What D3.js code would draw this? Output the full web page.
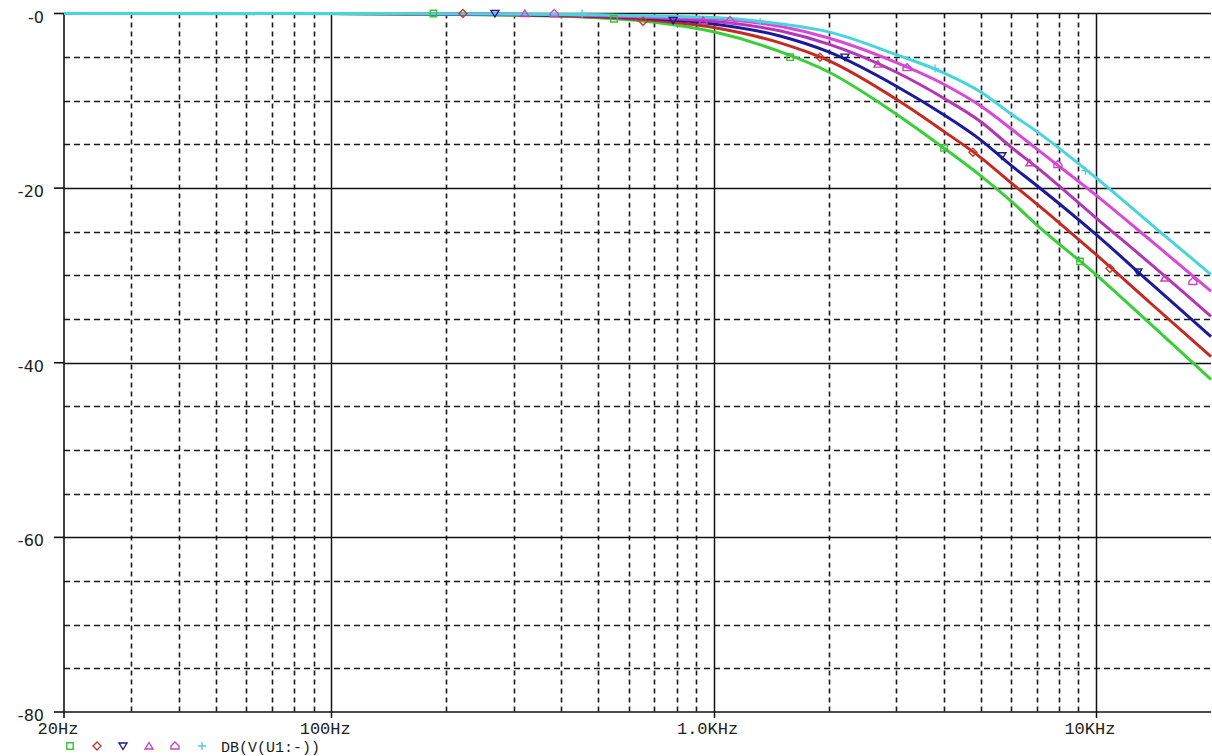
<!DOCTYPE html>
<html>
<head>
<meta charset="utf-8">
<script src="https://cdn.jsdelivr.net/npm/d3@7"></script>
<style>
  html, body { margin: 0; padding: 0; background: #fff; overflow: hidden; }
  svg { display: block; }
</style>
</head>
<body>
<svg id="chart" width="1212" height="756"></svg>
<script>
// ---------- data ----------
const freqs = [20, 100, 200, 300, 500, 700, 1000, 1500, 2000, 3000, 4000, 5000, 6000, 7000, 10000, 14000, 20000];

const greenDb = [0, -0.02, -0.1, -0.2, -0.5, -1.0, -2.1, -4.4, -6.7, -11.5, -15.4, -18.6, -21.5, -24.2, -29.9, -35.7, -41.9];
const redDb   = [0, -0.01, -0.07, -0.15, -0.4, -0.8, -1.6, -3.4, -5.4, -9.8, -13.5, -16.5, -19.4, -21.8, -27.6, -33.3, -39.3];
const blueDb  = [0, -0.01, -0.05, -0.12, -0.3, -0.6, -1.2, -2.6, -4.4, -8.3, -11.6, -14.5, -17.4, -19.7, -25.3, -31.0, -37.0];
const mag1Db  = [0, 0, -0.04, -0.1, -0.25, -0.5, -0.9, -2.0, -3.5, -6.7, -9.7, -12.4, -15.3, -17.6, -23.4, -28.8, -34.7];
const mag2Db  = [0, 0, -0.03, -0.07, -0.2, -0.4, -0.6, -1.5, -2.8, -5.6, -8.1, -10.6, -13.2, -15.5, -20.8, -26.1, -31.8];
const cyanDb  = [0, 0, -0.02, -0.05, -0.15, -0.3, -0.45, -1.2, -2.1, -4.7, -6.8, -9.0, -11.5, -13.5, -18.8, -24.2, -29.9];

// marker positions along each trace (frequency, dB)
const greenMarkF = [185, 549, 1585, 4007, 9087];
const greenMarkDb = [0, -0.6, -5.0, -15.4, -28.4];
const redMarkF = [221, 654, 1898, 4768, 10881];
const redMarkDb = [0, -0.9, -5.0, -15.9, -29.2];
const blueMarkF = [268, 784, 2206, 5677, 12882];
const blueMarkDb = [0, -0.8, -5.0, -16.3, -29.6];
const mag1MarkF = [321, 939, 2692, 6717, 15146];
const mag1MarkDb = [0, -0.8, -5.8, -17.1, -30.3];
const mag2MarkF = [383, 1104, 3206, 7957, 17934];
const mag2MarkDb = [0, -0.8, -6.2, -17.3, -30.7];
const cyanMarkF = [453, 1324, 3795, 9390];
const cyanMarkDb = [0, -1.0, -6.3, -18.0];

const yTickValues = [0, -20, -40, -60, -80];
const yTickLabels = ["-0", "-20", "-40", "-60", "-80"];
const xTickValues = [20, 100, 1000, 10000];
const xTickLabels = ["20Hz", "100Hz", "1.0KHz", "10KHz"];
const yMinorValues = [-5, -10, -15, -25, -30, -35, -45, -50, -55, -65, -70, -75];
const yMajorGrid = [-20, -40, -60];
const xMinorValues = [30, 40, 50, 60, 70, 80, 90, 200, 300, 400, 500, 600, 700, 800, 900,
                      2000, 3000, 4000, 5000, 6000, 7000, 8000, 9000];
const xMajorGrid = [100, 1000, 10000];
const legendLabel = "DB(V(U1:-))";

// ---------- layout ----------
const svg = d3.select("#chart");
const pLeft = 64, pRight = 1211, pTop = 13.5, pBottom = 712;

const x = d3.scaleLog().domain([20, 20000]).range([pLeft, pRight]);
const y = d3.scaleLinear().domain([0, -80]).range([pTop, pBottom]);

const series = [
  { name: "green", vals: greenDb, mf: greenMarkF, md: greenMarkDb, color: "#38cf38", mcolor: "#3cbf3c", sym: "square" },
  { name: "red", vals: redDb, mf: redMarkF, md: redMarkDb, color: "#c42a20", mcolor: "#c43a30", sym: "diamond" },
  { name: "blue", vals: blueDb, mf: blueMarkF, md: blueMarkDb, color: "#1a1a9a", mcolor: "#1a1a8a", sym: "tridown" },
  { name: "mag1", vals: mag1Db, mf: mag1MarkF, md: mag1MarkDb, color: "#b535b5", mcolor: "#c840b8", sym: "triup" },
  { name: "mag2", vals: mag2Db, mf: mag2MarkF, md: mag2MarkDb, color: "#d948d9", mcolor: "#c845c8", sym: "penta" },
  { name: "cyan", vals: cyanDb, mf: cyanMarkF, md: cyanMarkDb, color: "#45d6dc", mcolor: "#55cce0", sym: "plus" }
];

const symPath = {
  square: "M-3.2,-3.2H3.2V3.2H-3.2Z",
  diamond: "M0,-4L4,0L0,4L-4,0Z",
  tridown: "M-4,-3H4L0,3.5Z",
  triup: "M0,-3.5L4,3H-4Z",
  penta: "M0,-4L4,0V3H-4V0Z",
  plus: "M-4,0H4M0,-4V4"
};

// ---------- grid ----------
const grid = svg.append("g");
grid.selectAll("line.ymin").data(yMinorValues).join("line")
  .attr("x1", pLeft).attr("x2", pRight)
  .attr("y1", d => Math.round(y(d)) + 0.5).attr("y2", d => Math.round(y(d)) + 0.5)
  .attr("stroke", "#1a1a1a").attr("stroke-width", 1.6).attr("stroke-dasharray", "6,4");
grid.selectAll("line.xmin").data(xMinorValues).join("line")
  .attr("y1", pTop).attr("y2", pBottom)
  .attr("x1", d => Math.round(x(d)) + 0.5).attr("x2", d => Math.round(x(d)) + 0.5)
  .attr("stroke", "#1a1a1a").attr("stroke-width", 1.6).attr("stroke-dasharray", "5,4");
grid.selectAll("line.ymaj").data(yMajorGrid).join("line")
  .attr("x1", pLeft).attr("x2", pRight)
  .attr("y1", d => Math.round(y(d)) + 0.5).attr("y2", d => Math.round(y(d)) + 0.5)
  .attr("stroke", "#111").attr("stroke-width", 1.5);
grid.selectAll("line.xmaj").data(xMajorGrid).join("line")
  .attr("y1", pTop).attr("y2", pBottom + 6)
  .attr("x1", d => Math.round(x(d)) + 0.5).attr("x2", d => Math.round(x(d)) + 0.5)
  .attr("stroke", "#111").attr("stroke-width", 1.5);

// frame
svg.append("line").attr("x1", pLeft).attr("x2", pRight).attr("y1", pTop).attr("y2", pTop)
  .attr("stroke", "#111").attr("stroke-width", 1.5);
svg.append("line").attr("x1", pLeft).attr("x2", pRight).attr("y1", pBottom).attr("y2", pBottom)
  .attr("stroke", "#111").attr("stroke-width", 1.6);
svg.append("line").attr("x1", pLeft).attr("x2", pLeft).attr("y1", pTop).attr("y2", pBottom + 6)
  .attr("stroke", "#111").attr("stroke-width", 1.6);

// ---------- y axis labels ----------
const yAxis = svg.append("g");
yAxis.selectAll("line").data(yTickValues).join("line")
  .attr("x1", pLeft - 10).attr("x2", pLeft)
  .attr("y1", d => y(d)).attr("y2", d => y(d))
  .attr("stroke", "#111").attr("stroke-width", 1.6);
yAxis.selectAll("text").data(yTickValues).join("text")
  .attr("x", 44).attr("y", d => y(d) + 9)
  .attr("text-anchor", "end")
  .attr("font-family", "DejaVu Sans, sans-serif").attr("font-size", 16)
  .attr("fill", "#222")
  .text((d, i) => yTickLabels[i]);

// ---------- x axis labels ----------
svg.append("g").selectAll("text").data(xTickValues).join("text")
  .attr("x", d => x(d) - 6).attr("y", 733.5)
  .attr("text-anchor", "middle")
  .attr("font-family", "Liberation Mono, Courier New, monospace").attr("font-size", 17)
  .attr("fill", "#222")
  .text((d, i) => xTickLabels[i]);

// ---------- traces ----------
const line = d3.line()
  .x(d => x(d[0]))
  .y(d => y(d[1]))
  .curve(d3.curveMonotoneX);

const traces = svg.append("g");
series.forEach(s => {
  const pts = freqs.map((f, i) => [f, s.vals[i]]);
  traces.append("path")
    .attr("d", line(pts))
    .attr("fill", "none")
    .attr("stroke", s.color)
    .attr("stroke-width", 3)
    .attr("stroke-linejoin", "round");
});
series.forEach(s => {
  traces.append("g").selectAll("path").data(s.mf.map((f, i) => [f, s.md[i]])).join("path")
    .attr("transform", d => `translate(${x(d[0])},${y(d[1])})`)
    .attr("d", symPath[s.sym])
    .attr("fill", "none")
    .attr("stroke", s.mcolor)
    .attr("stroke-width", 1.4);
});

// ---------- legend ----------
const legendX = [70, 97, 123, 149, 175, 202];
const lg = svg.append("g");
series.forEach((s, i) => {
  lg.append("path")
    .attr("transform", `translate(${legendX[i]},746)`)
    .attr("d", symPath[s.sym])
    .attr("fill", "none")
    .attr("stroke", s.mcolor)
    .attr("stroke-width", 1.4);
});
lg.append("text")
  .attr("x", 221).attr("y", 751.5)
  .attr("font-family", "Liberation Mono, Courier New, monospace").attr("font-size", 15)
  .attr("fill", "#222")
  .text(legendLabel);
</script>
</body>
</html>
